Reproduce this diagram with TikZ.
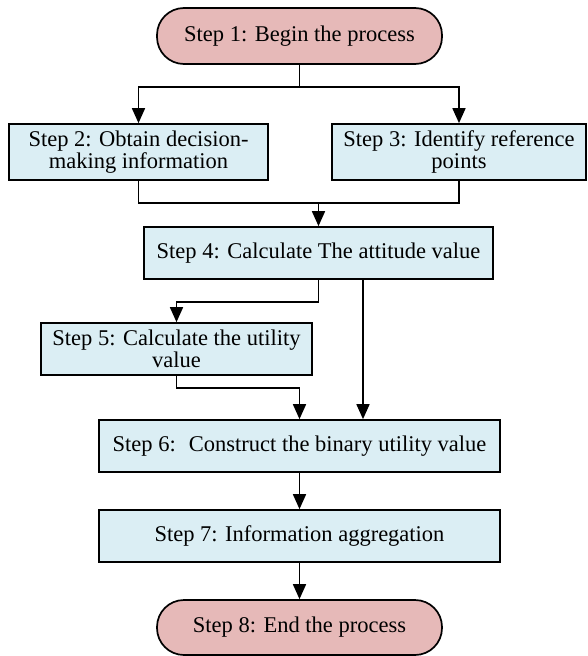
\documentclass[tikz,border=0pt]{standalone}
\usepackage{fontspec}
\setmainfont{Liberation Serif}
\newfontfamily\stepfont{Liberation Serif}
\usepackage{tikz}
\usetikzlibrary{arrows.meta}
\definecolor{endpink}{RGB}{230,185,184}
\definecolor{stepblue}{RGB}{219,238,244}
\tikzset{
	stepbox/.style={draw=black, line width=1.7pt, fill=stepblue, align=center, inner sep=0pt, font=\stepfont\fontsize{22.5}{22}\selectfont},
	endbox/.style={stepbox, fill=endpink, rounded corners=27pt},
	link/.style={line width=1.7pt, color=black},
	linkarrow/.style={link, -{Triangle[width=13pt,length=15pt]}}
}

\begin{document}
\begin{tikzpicture}[x=1pt, y=-1pt]
		%%%%% FRAME %%%%%
		\useasboundingbox (0,0) rectangle (587,656);
		
		%%%%% STEPS %%%%%
		\node[endbox, minimum width=285pt, minimum height=56pt] (s1) at (299.5, 36) {Step 1: Begin the process};
		
		\node[stepbox, minimum width=259pt, minimum height=56pt] (s2) at (138.5, 152) {Step 2: Obtain decision-\\making information};
		\node[stepbox, minimum width=254pt, minimum height=56pt] (s3) at (459, 152) {Step 3: Identify reference\\points};
		
		\node[stepbox, minimum width=349pt, minimum height=52pt] (s4) at (318.5, 253) {Step 4: Calculate The attitude value};
		\node[stepbox, minimum width=271pt, minimum height=52pt] (s5) at (176.5, 349) {Step 5: Calculate the utility\\value};
		
		\node[stepbox, minimum width=401pt, minimum height=52pt] (s6) at (299.5, 446) {Step 6:~ Construct the binary utility value};
		\node[stepbox, minimum width=401pt, minimum height=52pt] (s7) at (299.5, 536) {Step 7: Information aggregation};
		
		\node[endbox, minimum width=285pt, minimum height=55pt] (s8) at (299.5, 627.5) {Step 8: End the process};
		
		%%%%% LINKS %%%%%
		\coordinate (b1) at (299.5, 87);
		\coordinate (j1) at (318.5, 203);
		\coordinate (j2) at (318.5, 302);
		\coordinate (j3) at (299.5, 388);
		
		\draw[link] (s1.south) -- (b1);
		\draw[linkarrow] (b1) -| (s2.north);
		\draw[linkarrow] (b1) -| (s3.north);
		
		\draw[link] (s2.south) |- (j1) -| (s3.south);
		\draw[linkarrow] (j1) -- (s4.north);
		
		\draw[linkarrow] (s4.south) -- (j2) -| (s5.north);
		\draw[linkarrow] ([xshift=44.5pt]s4.south) -- ([xshift=44.5pt]s4.south |- s6.north);
		
		\draw[linkarrow] (s5.south) |- (j3) -- (s6.north);
		
		\draw[linkarrow] (s6.south) -- (s7.north);
		\draw[linkarrow] (s7.south) -- (s8.north);
		
		%%%%% END %%%%%
	\end{tikzpicture}
\end{document}
